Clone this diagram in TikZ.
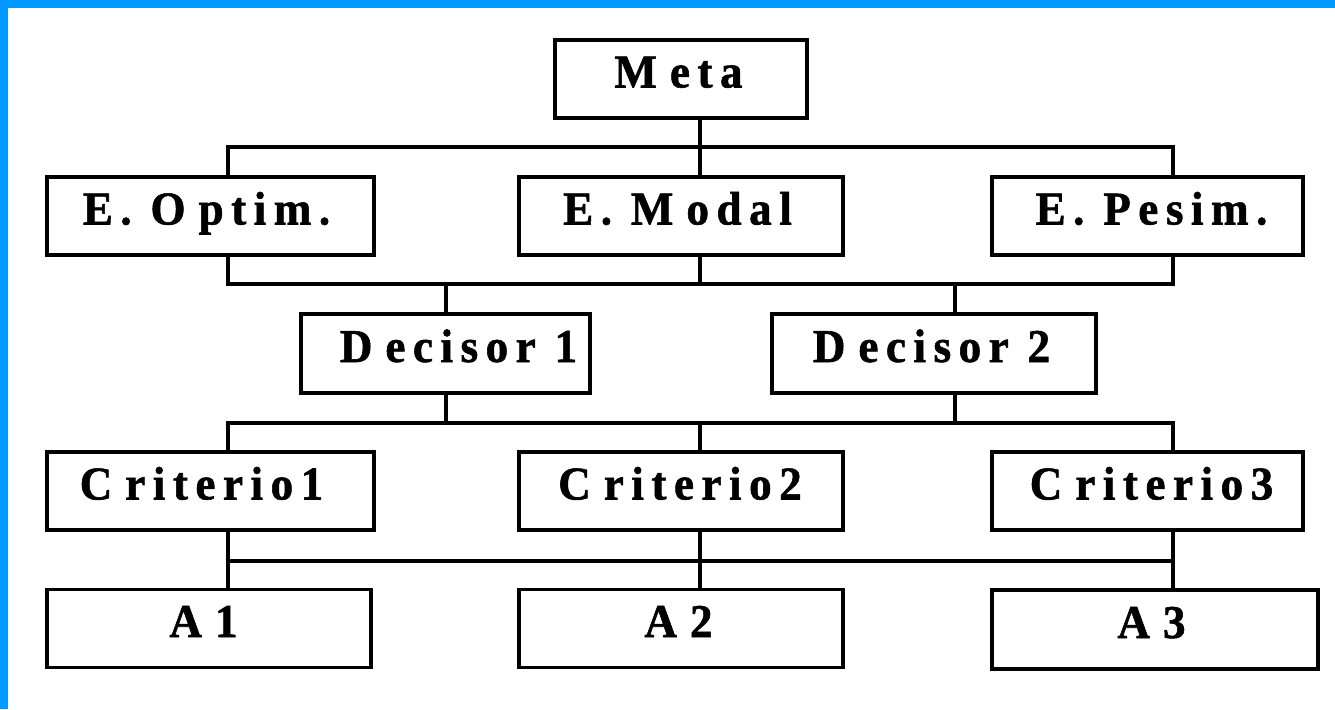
\documentclass[tikz,border=0pt]{standalone}
\usepackage{fontspec}
\newfontfamily\lblfont{Liberation Serif}[FakeStretch=0.96,LetterSpace=16,FakeBold=1.2]
\definecolor{frameblue}{RGB}{0,153,255}
% wider gap that follows the leading capital of a label
\newcommand\capgap{\kern13pt}
% moves a label sideways inside its box by half the given amount
\newcommand\nudge[1]{\kern#1pt}

\begin{document}
\begin{tikzpicture}[x=1pt,y=-1pt,
  box/.style={draw, line width=3.8pt, inner sep=0pt, minimum height=78pt,
    font=\lblfont\bfseries\fontsize{47}{50}\selectfont,
    text height=31pt, text depth=14pt},
  link/.style={line width=3.8pt}]
\useasboundingbox (0,0) rectangle (1335,709);
\fill[white] (0,0) rectangle (1335,709);
% frame strips on the top and left edges
\fill[frameblue] (0,0) rectangle (1335,8);
\fill[frameblue] (0,0) rectangle (8,709);

% boxes
\node[box, minimum width=252pt] (meta) at (681,79) {\nudge{-5}M\capgap eta};

\node[box, minimum width=327pt] (eopt) at (210.5,216) {\nudge{-8}E. O\capgap ptim.};
\node[box, minimum width=324pt] (emod) at (681,216) {\nudge{-7}E. M\capgap odal};
\node[box, minimum width=311pt] (epes) at (1147.5,216) {\nudge{8}E. Pesim.};

\node[box, minimum width=289pt, minimum height=79pt] (dec1) at (445.5,353.5) {\nudge{26}D\capgap ecisor 1};
\node[box, minimum width=324pt, minimum height=79pt] (dec2) at (934,353.5) {\nudge{-5}D\capgap ecisor 2};

\node[box, minimum width=327pt] (cri1) at (210.5,491) {\nudge{-18}C\capgap riterio1};
\node[box, minimum width=324pt] (cri2) at (681,491) {\nudge{-2}C\capgap riterio2};
\node[box, minimum width=311pt] (cri3) at (1147.5,491) {\nudge{8}C\capgap riterio3};

\node[box, minimum width=324pt] (a1) at (209,628.5) {\nudge{-11}A\capgap 1};
\node[box, minimum width=324pt] (a2) at (681,628.5) {\nudge{-5}A\capgap 2};
\node[box, minimum width=326pt, minimum height=79pt] (a3) at (1155,629.5) {\nudge{-7}A\capgap 3};

% columns and bus levels of the connectors
\coordinate (xL) at (228,0);
\coordinate (xM) at (700,0);
\coordinate (xR) at (1173,0);
\coordinate (xD1) at (446,0);
\coordinate (xD2) at (955,0);
\coordinate (y1) at (0,147);
\coordinate (y2) at (0,284);
\coordinate (y3) at (0,423);
\coordinate (y4) at (0,561);

% Meta to scenarios
\draw[link] (meta.south -| xM) -- (xM |- y1);
\draw[link] (eopt.north -| xL) -- (xL |- y1) -- (xR |- y1) -- (epes.north -| xR);
\draw[link] (emod.north -| xM) -- (xM |- y1);

% scenarios to decision makers
\draw[link] (eopt.south -| xL) -- (xL |- y2) -- (xR |- y2) -- (epes.south -| xR);
\draw[link] (emod.south -| xM) -- (xM |- y2);
\draw[link] (xD1 |- y2) -- (dec1.north -| xD1);
\draw[link] (xD2 |- y2) -- (dec2.north -| xD2);

% decision makers to criteria
\draw[link] (dec1.south -| xD1) -- (xD1 |- y3);
\draw[link] (dec2.south -| xD2) -- (xD2 |- y3);
\draw[link] (cri1.north -| xL) -- (xL |- y3) -- (xR |- y3) -- (cri3.north -| xR);
\draw[link] (xM |- y3) -- (cri2.north -| xM);

% criteria to alternatives
\draw[link] (cri1.south -| xL) -- (a1.north -| xL);
\draw[link] (xL |- y4) -- (xR |- y4);
\draw[link] (cri2.south -| xM) -- (a2.north -| xM);
\draw[link] (cri3.south -| xR) -- (a3.north -| xR);
\end{tikzpicture}
\end{document}
